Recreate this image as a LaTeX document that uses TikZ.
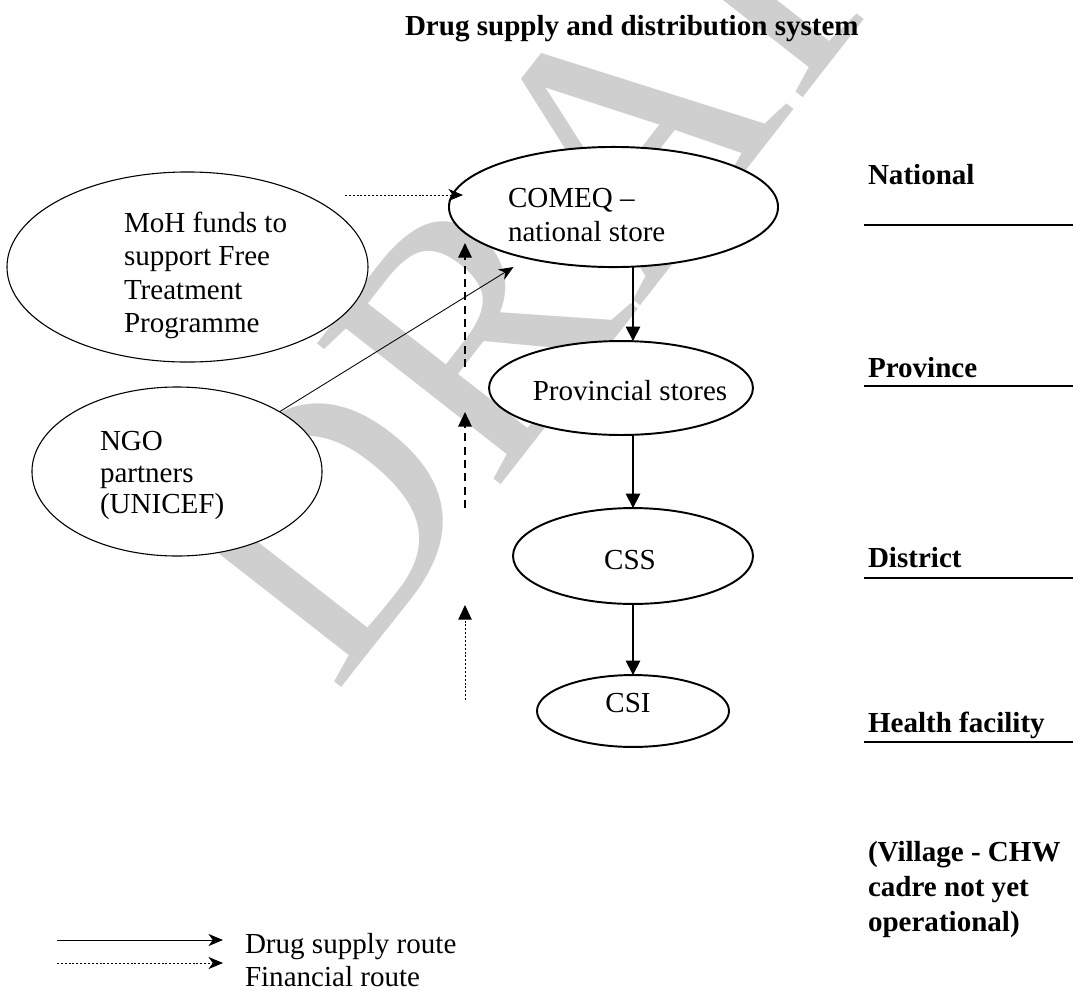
\documentclass[tikz,border=0pt]{standalone}
\usepackage{fontspec}
\setmainfont{Liberation Serif}
\usetikzlibrary{arrows.meta,calc,shapes.geometric}
\begin{document}
\begin{tikzpicture}[x=0.413pt,y=-0.413pt,
  every node/.style={font=\fontsize{12}{13.8}\selectfont, inner sep=0pt, outer sep=0pt},
  mainell/.style={draw, ellipse, fill=white, line width=0.8pt},
  sideell/.style={draw, ellipse, fill=white, line width=0.45pt},
  supply/.style={-{Triangle[length=6pt,width=6pt]}, line width=0.7pt},
  finance/.style={-{Triangle[length=6pt,width=5.5pt]}, line width=0.8pt, dash pattern=on 3.3pt off 2.2pt},
  finthin/.style={-{Triangle[length=6pt,width=5.5pt]}, line width=0.35pt, dash pattern=on 0.8pt off 0.8pt},
  thinarrow/.style={-{Stealth[length=6pt,width=5pt,inset=1.8pt]}, line width=0.35pt},
  dotline/.style={dash pattern=on 0.8pt off 0.8pt},
  level/.style={font=\bfseries\fontsize{12}{14.3}\selectfont, anchor=base west, align=left},
  levelline/.style={line width=0.9pt},
  txt/.style={anchor=base west, align=left},
]
\useasboundingbox (0,0) rectangle (1073,990);
% watermark
\node[rotate=52, text=black!19, font=\fontsize{146}{146}\selectfont] (wm) at (601,167) {DRAFT};

% title
\node[anchor=base west, font=\bfseries\fontsize{12}{14}\selectfont] (title) at (405,35) {Drug supply and distribution system};

% ellipses
\node[sideell, minimum width=149.1pt, minimum height=78.5pt] (moh) at (187.5,267) {};
\node[sideell, minimum width=119.8pt, minimum height=69.8pt] (ngo) at (177,471.5) {};
\node[mainell, minimum width=135.9pt, minimum height=49.6pt] (comeq) at (613.5,207) {};
\node[mainell, minimum width=109.0pt, minimum height=38.8pt] (prov) at (621,388) {};
\node[mainell, minimum width=99.1pt, minimum height=39.6pt] (css) at (633,556) {};
\node[mainell, minimum width=79.3pt, minimum height=29.7pt] (csi) at (633,711) {};

% texts (base anchor = baseline of last line)
\node[txt] (mohtxt) at (124,332.7) {MoH funds to\\support Free\\Treatment\\Programme};
\node[txt, font=\fontsize{12}{12.9}\selectfont] (ngotxt) at (100,513.3) {NGO\\partners\\(UNICEF)};
\node[txt] (comeqtxt) at (508,241) {COMEQ –\\national store};
\node[anchor=base] (provtxt) at (630,400) {Provincial stores};
\node[anchor=base] (csstxt) at (630,569) {CSS};
\node[anchor=base] (csitxt) at (628,712) {CSI};

% drug supply arrows
\draw[supply] (comeq.south -| css.north) -- (prov.north -| css.north);
\draw[supply] (prov.south -| css.north) -- (css.north);
\draw[supply] (css.south) -- (csi.north);

% inflows to COMEQ
\coordinate (fin0) at (345,195);
\draw[thinarrow, dotline] (fin0) -- ($(comeq.west |- fin0)+(14,0)$);
\draw[thinarrow] (ngo.north east) -- ($(comeq.center)+(-100,60)$);

% financial vertical arrows
\coordinate (f1a) at (465,367); \coordinate (f1b) at (465,243);
\coordinate (f2a) at (465,508); \coordinate (f2b) at (465,412);
\coordinate (f3a) at (465,700); \coordinate (f3b) at (465,605);
\draw[finance] (f1a) -- (f1b);
\draw[finance] (f2a) -- (f2b);
\draw[finthin] (f3a) -- (f3b);

% levels
\node[level] (lnat) at (868,184) {National};
\node[level] (lprov) at (868,377) {Province};
\node[level] (ldist) at (868,567) {District};
\node[level] (lhf) at (868,732) {Health facility};
\draw[levelline] (864,225) -- (1073,225);
\draw[levelline] (864,386) -- (1073,386);
\draw[levelline] (864,578) -- (1073,578);
\draw[levelline] (864,742) -- (1073,742);
\begin{scope}
\clip (860,820) rectangle (1073,937);
\node[level] (lvil) at (868,931) {(Village - CHW\\cadre not yet\\operational)};
\end{scope}

% legend
\coordinate (lg1a) at (57,940); \coordinate (lg1b) at (223,940);
\coordinate (lg2a) at (57,963); \coordinate (lg2b) at (223,963);
\draw[thinarrow] (lg1a) -- (lg1b);
\draw[thinarrow, dotline] (lg2a) -- (lg2b);
\node[anchor=base west] (lg1t) at (245,953) {Drug supply route};
\node[anchor=base west] (lg2t) at (245,986) {Financial route};
\end{tikzpicture}
\end{document}
